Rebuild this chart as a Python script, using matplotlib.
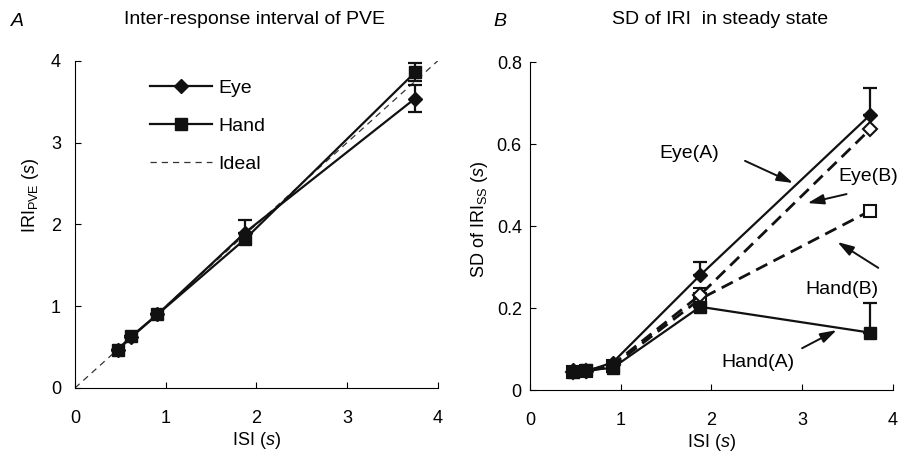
import matplotlib
matplotlib.use("Agg")
import matplotlib.pyplot as plt
from matplotlib.lines import Line2D

plt.rcParams['font.family'] = ['Liberation Sans', 'DejaVu Sans']
plt.rcParams['mathtext.fontset'] = 'custom'
plt.rcParams['mathtext.rm'] = 'Liberation Sans'
plt.rcParams['mathtext.it'] = 'Liberation Sans:italic'

# ---- data ----
isi = [0.47, 0.62, 0.91, 1.875, 3.75]

# Panel A: inter-response interval of PVE
iri_eye = [0.46, 0.62, 0.90, 1.90, 3.54]
iri_eye_err_lo = [0, 0, 0, 0, 0.16]
iri_eye_err_hi = [0, 0, 0, 0.15, 0.16]
iri_hand = [0.47, 0.63, 0.90, 1.82, 3.86]
iri_hand_err_lo = [0, 0, 0, 0, 0.1]
iri_hand_err_hi = [0, 0, 0, 0, 0.11]
ideal_x = [0, 4]
ideal_y = [0, 4]

# Panel B: SD of IRI in steady state
sd_eye_a = [0.048, 0.046, 0.067, 0.28, 0.671]
sd_eye_a_err = [0, 0, 0, 0.033, 0.066]
sd_eye_b = [0.045, 0.047, 0.062, 0.232, 0.636]
sd_eye_b_err = [0, 0, 0, 0.018, 0]
sd_hand_b = [0.044, 0.046, 0.058, 0.222, 0.437]
sd_hand_a = [0.045, 0.048, 0.054, 0.203, 0.14]
sd_hand_a_err = [0, 0, 0, 0, 0.073]

fig = plt.figure(figsize=(9, 4.53), dpi=100)
axA = fig.add_axes([0.0833, 0.1435, 0.403, 0.722])
axB = fig.add_axes([0.589, 0.139, 0.403, 0.724])

fs = 13
tfs = 14
k = '#111111'
for ax in (axA, axB):
    for s in ('top', 'right'):
        ax.spines[s].set_visible(False)
    for s in ('left', 'bottom'):
        ax.spines[s].set_linewidth(0.8)
    ax.tick_params(direction='in', length=4, width=0.8, labelsize=fs)
    ax.tick_params(axis='x', pad=16)
    ax.set_xlim(0, 4)
    ax.set_xticks([0, 1, 2, 3, 4])
    ax.set_xlabel('ISI ($\\it{s}$)', fontsize=fs, labelpad=2)

# Panel A
axA.tick_params(axis='y', pad=10)
axA.set_ylim(0, 4)
axA.set_yticks([0, 1, 2, 3, 4])
axA.plot(ideal_x, ideal_y, ls=(0, (5, 4)), color='#333333', lw=0.9, zorder=1)
axA.errorbar(isi, iri_hand, yerr=[iri_hand_err_lo, iri_hand_err_hi], color=k, lw=1.6,
             marker='s', ms=8, capsize=5, elinewidth=1.6, capthick=1.6, zorder=3)
axA.errorbar(isi, iri_eye, yerr=[iri_eye_err_lo, iri_eye_err_hi], color=k, lw=1.6,
             marker='D', ms=7, capsize=5, elinewidth=1.6, capthick=1.6, zorder=4)
axA.set_ylabel('IRI$_{\\mathrm{PVE}}$ ($\\it{s}$)', fontsize=fs)
axA.yaxis.set_label_coords(-0.095, 0.59)
handles = [Line2D([], [], color=k, lw=1.6, marker='D', ms=7),
           Line2D([], [], color=k, lw=1.6, marker='s', ms=8),
           Line2D([], [], color='#333333', lw=0.9, ls=(0, (5, 4)))]
axA.legend(handles, ['Eye', 'Hand', 'Ideal'],
           loc='upper left', bbox_to_anchor=(0.207, 0.945), frameon=False,
           fontsize=tfs, handlelength=3.2, handletextpad=0.3, labelspacing=1.05,
           borderaxespad=0, borderpad=0)
fig.text(0.2833, 0.956, 'Inter-response interval of PVE', fontsize=tfs, ha='center', va='center')
fig.text(0.012, 0.953, 'A', fontsize=tfs, style='italic', va='center')

# Panel B
axB.tick_params(axis='y', pad=6)
axB.set_ylim(0, 0.8)
axB.set_yticks([0, 0.2, 0.4, 0.6, 0.8])
axB.set_yticklabels(['0', '0.2', '0.4', '0.6', '0.8'])
axB.plot(isi, sd_hand_b, color=k, lw=2.0, ls=(0, (4.5, 2.5)),
         marker='s', ms=8, mfc='white', mec=k, mew=1.5, zorder=2)
axB.errorbar(isi, sd_eye_b, yerr=[[0] * 5, sd_eye_b_err], color=k, lw=2.0, ls=(0, (4.5, 2.5)),
             marker='D', ms=7, mfc='white', mec=k, mew=1.5,
             capsize=5, elinewidth=1.6, capthick=1.6, zorder=2)
axB.errorbar(isi, sd_hand_a, yerr=[[0] * 5, sd_hand_a_err], color=k, lw=1.6,
             marker='s', ms=8, capsize=5, elinewidth=1.6, capthick=1.6, zorder=3)
axB.errorbar(isi, sd_eye_a, yerr=[[0] * 5, sd_eye_a_err], color=k, lw=1.6,
             marker='D', ms=7, capsize=5, elinewidth=1.6, capthick=1.6, zorder=4)
axB.set_ylabel('SD of IRI$_{\\mathrm{SS}}$ ($\\it{s}$)', fontsize=fs)
axB.yaxis.set_label_coords(-0.11, 0.52)
fig.text(0.80, 0.956, 'SD of IRI  in steady state', fontsize=tfs, ha='center', va='center')
fig.text(0.548, 0.953, 'B', fontsize=tfs, style='italic', va='center')

arr = dict(arrowstyle='-|>,head_length=0.7,head_width=0.22', color=k, lw=1.4,
           mutation_scale=14, shrinkA=0, shrinkB=0)
afs = 14
axB.annotate('', xy=(2.90, 0.505), xytext=(2.37, 0.559), arrowprops=arr)
axB.text(1.75, 0.578, 'Eye(A)', fontsize=afs, ha='center', va='center')
axB.annotate('', xy=(3.06, 0.456), xytext=(3.49, 0.478), arrowprops=arr)
axB.text(3.73, 0.522, 'Eye(B)', fontsize=afs, ha='center', va='center')
axB.annotate('', xy=(3.39, 0.361), xytext=(3.84, 0.298), arrowprops=arr)
axB.text(3.44, 0.246, 'Hand(B)', fontsize=afs, ha='center', va='center')
axB.annotate('', xy=(3.38, 0.146), xytext=(3.0, 0.102), arrowprops=arr)
axB.text(2.51, 0.066, 'Hand(A)', fontsize=afs, ha='center', va='center')

fig.savefig('out.png', dpi=100)
